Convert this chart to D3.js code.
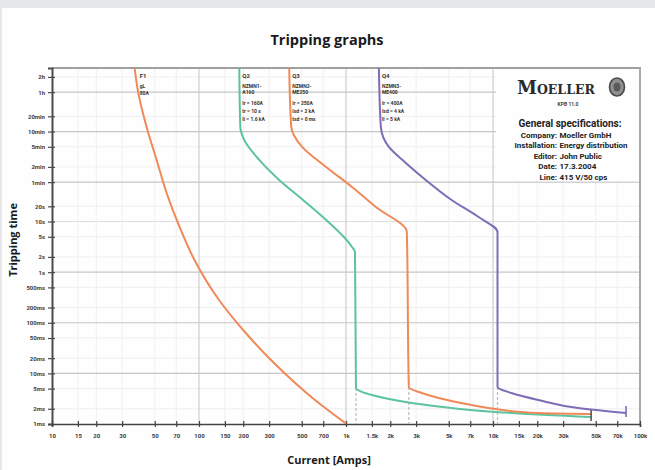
<!DOCTYPE html>
<html><head><meta charset="utf-8">
<script src="https://cdn.jsdelivr.net/npm/d3@7"></script>
<style>
html,body{margin:0;padding:0;background:#e6e7e9;}
svg{display:block;}
text{font-family:"Open Sans","Noto Sans",sans-serif;}
</style></head>
<body>
<svg id="chart" width="655" height="470"></svg>
<script>
// ---------- data ----------
const xTickValues = [10,15,20,30,50,70,100,150,200,300,500,700,1000,1500,2000,3000,5000,7000,10000,15000,20000,30000,50000,70000,100000];
const xTickLabels = ["10","15","20","30","50","70","100","150","200","300","500","700","1k","1.5k","2k","3k","5k","7k","10k","15k","20k","30k","50k","70k","100k"];
const yTickValues = [7200,3600,1200,600,300,120,60,20,10,5,2,1,0.5,0.2,0.1,0.05,0.02,0.01,0.005,0.002,0.001];
const yTickLabels = ["2h","1h","20min","10min","5min","2min","1min","20s","10s","5s","2s","1s","500ms","200ms","100ms","50ms","20ms","10ms","5ms","2ms","1ms"];
const xMajor = [100,1000,10000];
const yMajor = [3600,600,60,1,0.1,0.01];

const f1Amps = [36.5,38.3,44,51.5,60.2,73.8,93.2,136.8,202.4,323.7,615,1000];
const f1Secs = [10800,3990,741,165,36.7,7.8,1.74,0.282,0.0687,0.016,0.00298,0.00102];
const q2Amps = [188,191,203,257,351,510,731,1099,1151,1169,1284,1500,2800,10400,46500];
const q2Secs = [10800,741,410,165,66.4,26.7,10.8,3.15,2.51,0.00515,0.0043,0.00374,0.0026,0.00173,0.00137];
const q3Amps = [411,424,503,731,1099,1597,2594,2675,3275,4270,7150,10400,20300,46500];
const q3Secs = [10800,741,298,120,48.3,19.4,6.22,0.00539,0.0041,0.00327,0.00237,0.00198,0.00165,0.00158];
const q4Amps = [1674,1726,1957,2552,3486,5230,7980,10730,10730,13340,20300,38000,80400];
const q4Secs = [10800,741,298,144,66.4,26.7,12.3,6.22,0.00539,0.0041,0.00299,0.00207,0.00165];

const deviceNames = ["F1","Q2","Q3","Q4"];
const deviceInfo = [
  ["gL","80A"],
  ["NZMN1-","A160","Ir = 160A","tr = 10 s","Ii = 1.6 kA"],
  ["NZMN2-","ME250","Ir = 250A","Isd = 2 kA","tsd = 0 ms"],
  ["NZMN3-","ME400","Ir = 400A","Isd = 4 kA","Ii = 5 kA"]
];
const specLabels = ["Company:","Installation:","Editor:","Date:","Line:"];
const specValues = ["Moeller GmbH","Energy distribution","John Public","17.3.2004","415 V/50 cps"];

// ---------- setup ----------
const svg = d3.select("#chart");
const L=52, R=640, T=68, B=424;
const x = d3.scaleLog().domain([10,100000]).range([L,R]);
const y = d3.scaleLog().domain([0.001,10800]).range([B,T]);

svg.append("rect").attr("x",2).attr("y",8).attr("width",653).attr("height",462).attr("fill","#fefefe");

// title
svg.append("text").attr("x",327).attr("y",45).attr("text-anchor","middle")
  .attr("font-size",14.5).attr("font-weight",700).attr("fill","#1a1a1a").text("Tripping graphs");

// grid
const grid = svg.append("g");
yTickValues.filter(v=>!yMajor.includes(v) && v<10800 && v>0.001).forEach(v=>{
  grid.append("line").attr("x1",L).attr("x2",R).attr("y1",y(v)).attr("y2",y(v))
    .attr("stroke", v===10 ? "#dcdcdc" : "#efefef").attr("stroke-width",1);
});
xTickValues.filter(v=>!xMajor.includes(v) && v>10 && v<100000).forEach(v=>{
  grid.append("line").attr("x1",x(v)).attr("x2",x(v)).attr("y1",T).attr("y2",B)
    .attr("stroke","#f0f0f0").attr("stroke-width",1);
});
yMajor.forEach(v=>{
  grid.append("line").attr("x1",L).attr("x2",R).attr("y1",y(v)).attr("y2",y(v))
    .attr("stroke","#c6c6c6").attr("stroke-width",1.2);
});
xMajor.forEach(v=>{
  grid.append("line").attr("x1",x(v)).attr("x2",x(v)).attr("y1",T).attr("y2",B)
    .attr("stroke","#cdcdcd").attr("stroke-width",1.2);
});

// spec box (white area covering grid)
svg.append("rect").attr("x",x(10000)+3).attr("y",T+1).attr("width",R-x(10000)-4).attr("height",y(60)-T-2).attr("fill","#fefefe");

// frame
svg.append("line").attr("x1",L).attr("x2",R+1).attr("y1",T).attr("y2",T).attr("stroke","#a0a0a0").attr("stroke-width",2);
svg.append("line").attr("x1",R).attr("x2",R).attr("y1",T).attr("y2",B).attr("stroke","#a8a8a8").attr("stroke-width",2);

// axes
const yAxis = d3.axisLeft(y).tickValues(yTickValues).tickFormat((d,i)=>yTickLabels[i]).tickSize(4).tickPadding(3);
const gy = svg.append("g").attr("transform",`translate(${L},0)`).call(yAxis);
gy.select(".domain").attr("stroke","#4a4a4a").attr("stroke-width",2);
gy.selectAll(".tick line").attr("stroke","#4a4a4a").attr("x2",-4).attr("x1",3).attr("stroke-width",1.2);
gy.selectAll(".tick text").attr("font-size",6).attr("font-weight",700).attr("fill","#3c3c3c")
  .style("font-family","'Roboto',sans-serif");

const xAxis = d3.axisBottom(x).tickValues(xTickValues).tickFormat((d,i)=>xTickLabels[i]).tickSize(3).tickPadding(7);
const gx = svg.append("g").attr("transform",`translate(0,${B})`).call(xAxis);
gx.select(".domain").attr("stroke","#444").attr("stroke-width",1.6);
gx.selectAll(".tick line").attr("stroke","#444").attr("y1",-3).attr("y2",3).attr("stroke-width",1.2);
gx.selectAll(".tick text").attr("font-size",6).attr("font-weight",700).attr("fill","#3c3c3c")
  .style("font-family","'Roboto',sans-serif");

// axis titles
svg.append("text").attr("x",329).attr("y",464).attr("text-anchor","middle")
  .attr("font-size",11).attr("font-weight",700).attr("fill","#1a1a1a").text("Current [Amps]");
svg.append("text").attr("transform","translate(17,240) rotate(-90)").attr("text-anchor","middle")
  .attr("font-size",11).attr("font-weight",700).attr("fill","#1a1a1a").text("Tripping time");

// curves
const colors = ["#ef8a58","#5cc39f","#ef8a58","#7e6db6"];
const curves = [[f1Amps,f1Secs],[q2Amps,q2Secs],[q3Amps,q3Secs],[q4Amps,q4Secs]];
svg.append("clipPath").attr("id","pc").append("rect").attr("x",L).attr("y",T).attr("width",R-L).attr("height",B-T);
const line = d3.line().x(d=>x(d[0])).y(d=>y(d[1])).curve(d3.curveMonotoneY);

// dashed instantaneous markers
[[q2Amps[9],q2Secs[9]],[q3Amps[7],q3Secs[7]],[q4Amps[8],q4Secs[8]]].forEach(m=>{
  svg.append("line").attr("x1",x(m[0])).attr("x2",x(m[0])).attr("y1",y(m[1])).attr("y2",B)
    .attr("stroke","#b9b9c9").attr("stroke-width",1.2).attr("stroke-dasharray","3,2");
});

curves.forEach((c,i)=>{
  const pts = c[0].map((a,j)=>[a,c[1][j]]);
  svg.append("path").attr("d",line(pts)).attr("fill","none").attr("stroke",colors[i])
    .attr("stroke-width",2).attr("stroke-linejoin","round").attr("clip-path","url(#pc)");
});

// end caps
[[q2Amps,q2Secs,"#555"],[q4Amps,q4Secs,colors[3]]].forEach(c=>{
  const n=c[0].length-1, cx=x(c[0][n]), cy=y(c[1][n]);
  svg.append("line").attr("x1",cx).attr("x2",cx).attr("y1",cy-7).attr("y2",cy+4).attr("stroke",c[2]).attr("stroke-width",1.6);
});

// device labels
curves.forEach((c,i)=>{
  const tx = x(c[0][0]) + (i===0?5:3);
  svg.append("text").attr("x",tx).attr("y",78).attr("font-size",6).attr("font-weight",700).attr("fill","#333")
    .style("font-family","'Roboto',sans-serif").text(deviceNames[i]);
  const ys = i===0 ? [88,95] : [88,94,105,113,121];
  deviceInfo[i].forEach((t,k)=>{
    svg.append("text").attr("x",tx).attr("y",ys[k]).attr("font-size",5).attr("font-weight",700).attr("fill","#333")
      .style("font-family","'Roboto',sans-serif").text(t);
  });
});

// Moeller logo
const logo = svg.append("text").attr("x",517).attr("y",94).attr("font-weight",700).attr("fill","#2a2a2a")
  .style("font-family","'DejaVu Serif','Liberation Serif',serif");
logo.append("tspan").attr("font-size",18).text("M");
logo.append("tspan").attr("font-size",12.5).text("OELLER");
svg.append("ellipse").attr("cx",617).attr("cy",87).attr("rx",7.5).attr("ry",9).attr("fill","#909090").attr("stroke","#4a4a4a").attr("stroke-width",1.6);
svg.append("ellipse").attr("cx",617).attr("cy",87).attr("rx",3.5).attr("ry",4.5).attr("fill","#5a5a5a");
svg.append("text").attr("x",568).attr("y",106).attr("text-anchor","middle").attr("font-size",5).attr("font-weight",700)
  .attr("fill","#444").style("font-family","'Roboto',sans-serif").text("KPB 11.0");

// specs
svg.append("text").attr("x",570).attr("y",127).attr("text-anchor","middle").attr("font-size",10).attr("font-weight",700)
  .attr("fill","#222").style("font-family","'Roboto',sans-serif").text("General specifications:");
specLabels.forEach((s,i)=>{
  const yy = 137.5 + i*10.6;
  svg.append("text").attr("x",557).attr("y",yy).attr("text-anchor","end").attr("font-size",8).attr("font-weight",700)
    .attr("fill","#222").style("font-family","'Roboto',sans-serif").text(s);
  svg.append("text").attr("x",559.5).attr("y",yy).attr("font-size",8).attr("font-weight",700)
    .attr("fill","#222").style("font-family","'Roboto',sans-serif").text(specValues[i]);
});
</script>
</body></html>
